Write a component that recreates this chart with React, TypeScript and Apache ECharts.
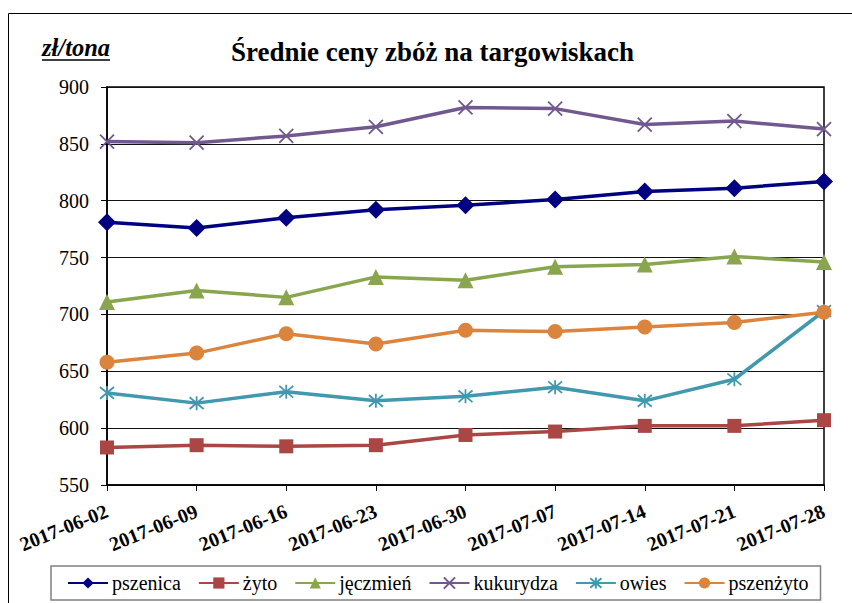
import React, { useEffect, useRef } from "react";
import * as echarts from "echarts";

const categories = [
  "2017-06-02", "2017-06-09", "2017-06-16", "2017-06-23", "2017-06-30",
  "2017-07-07", "2017-07-14", "2017-07-21", "2017-07-28",
];
const pszenica = [781, 776, 785, 792, 796, 801, 808, 811, 817];
const zyto = [583, 585, 584, 585, 594, 597, 602, 602, 607];
const jeczmien = [711, 721, 715, 733, 730, 742, 744, 751, 746];
const kukurydza = [852, 851, 857, 865, 882, 881, 867, 870, 863];
const owies = [631, 622, 632, 624, 628, 636, 624, 643, 703];
const pszenzyto = [658, 666, 683, 674, 686, 685, 689, 693, 702];
const yTicks = { min: 550, max: 900, interval: 50 };

const FONT = "Times New Roman, Liberation Serif, DejaVu Serif, serif";

const X_SYMBOL = "path://M0,0L10,10M10,0L0,10";
const STAR_SYMBOL = "path://M0,0L10,10M10,0L0,10M5,-1L5,11";

export default function App() {
  const ref = useRef<HTMLDivElement>(null);
  useEffect(() => {
    if (!ref.current) return;
    const chart = echarts.init(ref.current, null, { renderer: "svg" });
    const mk = (name: string, data: number[], color: string, symbol: string, size: number, stroke?: boolean) => ({
      name,
      type: "line",
      data,
      symbol,
      symbolSize: size,
      showSymbol: true,
      lineStyle: { color, width: 3.5 },
      itemStyle: stroke
        ? { color: "rgba(0,0,0,0)", borderColor: color, borderWidth: 1.8 }
        : { color, borderWidth: 0 },
      emphasis: { disabled: true },
    });
    chart.setOption({
      animation: false,
      backgroundColor: "#fff",
      textStyle: { fontFamily: FONT },
      title: {
        text: "Średnie ceny zbóż na targowiskach",
        left: 226,
        top: 33,
        textStyle: { fontFamily: FONT, fontWeight: "bold", fontSize: 27, color: "#000" },
      },
      graphic: [
        {
          type: "rect",
          shape: { x: 8.5, y: 13.5, width: 900, height: 700 },
          style: { fill: "none", stroke: "#000", lineWidth: 1 },
          silent: true,
        },
        {
          type: "text",
          left: 42,
          top: 35,
          style: {
            text: "zł/tona",
            fontFamily: FONT,
            fontStyle: "italic",
            fontWeight: "bold",
            fontSize: 24.5,
            fill: "#000",
          },
        },
        {
          type: "line",
          shape: { x1: 42, y1: 60, x2: 110, y2: 60 },
          style: { stroke: "#000", lineWidth: 1.5 },
        },
      ],
      legend: {
        left: 51,
        top: 566,
        padding: [7, 12, 7, 16],
        itemGap: 17,
        itemWidth: 40,
        itemHeight: 14,
        borderColor: "#808080",
        borderWidth: 1.5,
        textStyle: { fontFamily: FONT, fontSize: 20, color: "#000", padding: [0, 0, 0, -1] },
        data: ["pszenica", "żyto", "jęczmień", "kukurydza", "owies", "pszenżyto"],
      },
      grid: {
        left: 107,
        right: 28,
        top: 87,
        bottom: 118,
        show: true,
        borderColor: "#000",
        borderWidth: 1.5,
        backgroundColor: "transparent",
      },
      xAxis: {
        type: "category",
        data: categories,
        boundaryGap: false,
        axisLine: { lineStyle: { color: "#000", width: 1.5 } },
        axisTick: { show: true, length: 6, alignWithLabel: true, lineStyle: { color: "#000" } },
        axisLabel: {
          interval: 0,
          rotate: 22,
          margin: 25,
          fontFamily: FONT,
          fontWeight: "bold",
          fontSize: 20,
          color: "#000",
        },
      },
      yAxis: {
        type: "value",
        min: yTicks.min,
        max: yTicks.max,
        interval: yTicks.interval,
        axisLine: { show: true, lineStyle: { color: "#000", width: 1.5 } },
        axisTick: { show: true, length: 6, lineStyle: { color: "#000" } },
        axisLabel: { fontFamily: FONT, fontSize: 20, color: "#000", margin: 18 },
        splitLine: { lineStyle: { color: "#111", width: 1 } },
      },
      series: [
        mk("pszenica", pszenica, "#000080", "diamond", 18),
        mk("żyto", zyto, "#AA4643", "rect", 14),
        mk("jęczmień", jeczmien, "#89A54E", "triangle", 16),
        mk("kukurydza", kukurydza, "#71588F", X_SYMBOL, 14, true),
        mk("owies", owies, "#4198AF", STAR_SYMBOL, 14, true),
        mk("pszenżyto", pszenzyto, "#DB843D", "circle", 15),
      ],
    });
    return () => chart.dispose();
  }, []);
  return <div ref={ref} style={{ width: 852, height: 603, position: "absolute", left: 0, top: 0 }} />;
}
